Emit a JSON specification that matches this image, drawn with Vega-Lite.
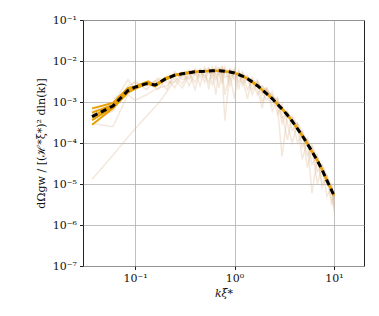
{
  "$schema": "https://vega.github.io/schema/vega-lite/v6.json",
  "width": 281,
  "height": 246,
  "autosize": {"type": "none"},
  "padding": {"left": 83, "top": 20, "right": 15, "bottom": 50},
  "config": {
    "font": "DejaVu Serif",
    "view": {"stroke": "#222", "strokeWidth": 1},
    "axis": {"domain": false, "grid": true, "gridColor": "#b0b0b0", "gridWidth": 0.8, "tickColor": "#222", "tickSize": 3.5, "labelFont": "DejaVu Serif", "labelFontSize": 11, "labelColor": "#111", "titleFont": "DejaVu Serif", "titleFontWeight": "normal", "titleFontSize": 11, "titleColor": "#111"}
  },
  "datasets": {
    "faint": [
      {"s":"F1","k":0.037,"v":1.3e-5},{"s":"F1","k":0.06,"v":5e-5},{"s":"F1","k":0.085,"v":1.4e-4},{"s":"F1","k":0.1,"v":2.2e-4},{"s":"F1","k":0.13,"v":4.5e-4},{"s":"F1","k":0.17,"v":9e-4},{"s":"F1","k":0.21,"v":1.8e-3},{"s":"F1","k":0.25,"v":3.5e-3},{"s":"F1","k":0.3,"v":2.2e-3},{"s":"F1","k":0.35,"v":5e-3},{"s":"F1","k":0.4,"v":3e-3},{"s":"F1","k":0.45,"v":6e-3},{"s":"F1","k":0.5,"v":4e-3},{"s":"F1","k":0.55,"v":6.5e-3},{"s":"F1","k":0.6,"v":2.5e-3},{"s":"F1","k":0.65,"v":6e-3},{"s":"F1","k":0.7,"v":4.5e-3},{"s":"F1","k":0.75,"v":6.5e-3},{"s":"F1","k":0.8,"v":1.5e-3},{"s":"F1","k":0.9,"v":5.5e-3},{"s":"F1","k":1.0,"v":3.5e-3},{"s":"F1","k":1.1,"v":5e-3},{"s":"F1","k":1.2,"v":2.5e-3},{"s":"F1","k":1.35,"v":4e-3},{"s":"F1","k":1.5,"v":1.5e-3},{"s":"F1","k":1.7,"v":3e-3},{"s":"F1","k":1.9,"v":1e-3},{"s":"F1","k":2.1,"v":2e-3},{"s":"F1","k":2.4,"v":6e-4},{"s":"F1","k":2.7,"v":1.1e-3},{"s":"F1","k":3.0,"v":3e-4},{"s":"F1","k":3.4,"v":6e-4},{"s":"F1","k":3.8,"v":2e-4},{"s":"F1","k":4.3,"v":3e-4},{"s":"F1","k":4.8,"v":8e-5},{"s":"F1","k":5.4,"v":1.3e-4},{"s":"F1","k":6.0,"v":3e-5},{"s":"F1","k":6.8,"v":5e-5},{"s":"F1","k":7.6,"v":1e-5},{"s":"F1","k":8.5,"v":1.5e-5},{"s":"F1","k":9.5,"v":3e-6},{"s":"F1","k":10,"v":6e-6},
      {"s":"F2","k":0.037,"v":3e-4},{"s":"F2","k":0.06,"v":2.5e-4},{"s":"F2","k":0.085,"v":1.5e-3},{"s":"F2","k":0.1,"v":1.1e-3},{"s":"F2","k":0.13,"v":1.5e-3},{"s":"F2","k":0.17,"v":2.2e-3},{"s":"F2","k":0.21,"v":2.5e-3},{"s":"F2","k":0.25,"v":4e-3},{"s":"F2","k":0.3,"v":2.8e-3},{"s":"F2","k":0.35,"v":5.5e-3},{"s":"F2","k":0.4,"v":2e-3},{"s":"F2","k":0.45,"v":5.5e-3},{"s":"F2","k":0.5,"v":4.5e-3},{"s":"F2","k":0.55,"v":3e-3},{"s":"F2","k":0.6,"v":7e-3},{"s":"F2","k":0.65,"v":3.5e-3},{"s":"F2","k":0.7,"v":6.5e-3},{"s":"F2","k":0.75,"v":5e-3},{"s":"F2","k":0.8,"v":3.5e-4},{"s":"F2","k":0.9,"v":6e-3},{"s":"F2","k":1.0,"v":4e-3},{"s":"F2","k":1.1,"v":5.5e-3},{"s":"F2","k":1.2,"v":3e-3},{"s":"F2","k":1.35,"v":4.5e-3},{"s":"F2","k":1.5,"v":2e-3},{"s":"F2","k":1.7,"v":3.2e-3},{"s":"F2","k":1.9,"v":1.6e-3},{"s":"F2","k":2.1,"v":2.2e-3},{"s":"F2","k":2.4,"v":1.3e-3},{"s":"F2","k":2.7,"v":1.2e-3},{"s":"F2","k":3.0,"v":4e-4},{"s":"F2","k":3.4,"v":5.5e-4},{"s":"F2","k":3.8,"v":3.5e-4},{"s":"F2","k":4.3,"v":2.5e-4},{"s":"F2","k":4.8,"v":1.6e-4},{"s":"F2","k":5.4,"v":5e-5},{"s":"F2","k":6.0,"v":8e-5},{"s":"F2","k":6.8,"v":2e-5},{"s":"F2","k":7.6,"v":3e-5},{"s":"F2","k":8.5,"v":1.3e-5},{"s":"F2","k":9.5,"v":8e-6},{"s":"F2","k":10,"v":2.5e-6},
      {"s":"F3","k":0.037,"v":5e-4},{"s":"F3","k":0.06,"v":9e-4},{"s":"F3","k":0.085,"v":3.5e-3},{"s":"F3","k":0.1,"v":2e-3},{"s":"F3","k":0.13,"v":3e-3},{"s":"F3","k":0.17,"v":2e-3},{"s":"F3","k":0.21,"v":3.8e-3},{"s":"F3","k":0.25,"v":2.2e-3},{"s":"F3","k":0.3,"v":5e-3},{"s":"F3","k":0.35,"v":3.5e-3},{"s":"F3","k":0.4,"v":6e-3},{"s":"F3","k":0.45,"v":2.5e-3},{"s":"F3","k":0.5,"v":6.5e-3},{"s":"F3","k":0.55,"v":5e-3},{"s":"F3","k":0.6,"v":6e-3},{"s":"F3","k":0.65,"v":1.5e-3},{"s":"F3","k":0.7,"v":7e-3},{"s":"F3","k":0.75,"v":4e-3},{"s":"F3","k":0.8,"v":6.5e-3},{"s":"F3","k":0.9,"v":2.5e-3},{"s":"F3","k":1.0,"v":6e-3},{"s":"F3","k":1.1,"v":3e-3},{"s":"F3","k":1.2,"v":5e-3},{"s":"F3","k":1.35,"v":2e-3},{"s":"F3","k":1.5,"v":3.5e-3},{"s":"F3","k":1.7,"v":1.5e-3},{"s":"F3","k":1.9,"v":2.5e-3},{"s":"F3","k":2.1,"v":1.8e-3},{"s":"F3","k":2.4,"v":1.5e-3},{"s":"F3","k":2.7,"v":8e-4},{"s":"F3","k":3.0,"v":4.7e-5},{"s":"F3","k":3.4,"v":5e-4},{"s":"F3","k":3.8,"v":4e-4},{"s":"F3","k":4.3,"v":1e-4},{"s":"F3","k":4.8,"v":1.8e-4},{"s":"F3","k":5.4,"v":1.1e-4},{"s":"F3","k":6.0,"v":6e-6},{"s":"F3","k":6.8,"v":4.5e-5},{"s":"F3","k":7.6,"v":2.5e-5},{"s":"F3","k":8.5,"v":5e-6},{"s":"F3","k":9.5,"v":9e-6},{"s":"F3","k":10,"v":2e-6},
      {"s":"F4","k":0.037,"v":6e-4},{"s":"F4","k":0.06,"v":1e-3},{"s":"F4","k":0.085,"v":2e-3},{"s":"F4","k":0.1,"v":2.5e-3},{"s":"F4","k":0.13,"v":2.8e-3},{"s":"F4","k":0.17,"v":3.2e-3},{"s":"F4","k":0.21,"v":4.2e-3},{"s":"F4","k":0.25,"v":5e-3},{"s":"F4","k":0.3,"v":4e-3},{"s":"F4","k":0.35,"v":6e-3},{"s":"F4","k":0.4,"v":4.5e-3},{"s":"F4","k":0.45,"v":6.5e-3},{"s":"F4","k":0.5,"v":5.5e-3},{"s":"F4","k":0.55,"v":7e-3},{"s":"F4","k":0.6,"v":5e-3},{"s":"F4","k":0.65,"v":7.5e-3},{"s":"F4","k":0.7,"v":6e-3},{"s":"F4","k":0.75,"v":7.5e-3},{"s":"F4","k":0.8,"v":5e-3},{"s":"F4","k":0.9,"v":6.5e-3},{"s":"F4","k":1.0,"v":5.5e-3},{"s":"F4","k":1.1,"v":5e-3},{"s":"F4","k":1.2,"v":4.5e-3},{"s":"F4","k":1.35,"v":4e-3},{"s":"F4","k":1.5,"v":3.5e-3},{"s":"F4","k":1.7,"v":2.8e-3},{"s":"F4","k":1.9,"v":2.3e-3},{"s":"F4","k":2.1,"v":1.9e-3},{"s":"F4","k":2.4,"v":1.4e-3},{"s":"F4","k":2.7,"v":1e-3},{"s":"F4","k":3.0,"v":7.5e-4},{"s":"F4","k":3.4,"v":5.5e-4},{"s":"F4","k":3.8,"v":4e-4},{"s":"F4","k":4.3,"v":2.6e-4},{"s":"F4","k":4.8,"v":1.8e-4},{"s":"F4","k":5.4,"v":1.1e-4},{"s":"F4","k":6.0,"v":7e-5},{"s":"F4","k":6.8,"v":4.2e-5},{"s":"F4","k":7.6,"v":2.5e-5},{"s":"F4","k":8.5,"v":1.4e-5},{"s":"F4","k":9.5,"v":7.5e-6},{"s":"F4","k":10,"v":5.5e-6},
      {"s":"F5","k":0.037,"v":4e-4},{"s":"F5","k":0.06,"v":6e-4},{"s":"F5","k":0.085,"v":2.5e-3},{"s":"F5","k":0.1,"v":3e-3},{"s":"F5","k":0.13,"v":2.5e-3},{"s":"F5","k":0.17,"v":3.5e-3},{"s":"F5","k":0.21,"v":2e-3},{"s":"F5","k":0.25,"v":5.5e-3},{"s":"F5","k":0.3,"v":3.5e-3},{"s":"F5","k":0.35,"v":4e-3},{"s":"F5","k":0.4,"v":6.5e-3},{"s":"F5","k":0.45,"v":4e-3},{"s":"F5","k":0.5,"v":7e-3},{"s":"F5","k":0.55,"v":2e-3},{"s":"F5","k":0.6,"v":6.5e-3},{"s":"F5","k":0.65,"v":5e-3},{"s":"F5","k":0.7,"v":2.2e-3},{"s":"F5","k":0.75,"v":7e-3},{"s":"F5","k":0.8,"v":4e-3},{"s":"F5","k":0.9,"v":4.5e-3},{"s":"F5","k":1.0,"v":1.2e-3},{"s":"F5","k":1.1,"v":6e-3},{"s":"F5","k":1.2,"v":3.8e-3},{"s":"F5","k":1.35,"v":1.2e-3},{"s":"F5","k":1.5,"v":4e-3},{"s":"F5","k":1.7,"v":2e-3},{"s":"F5","k":1.9,"v":7e-4},{"s":"F5","k":2.1,"v":2.3e-3},{"s":"F5","k":2.4,"v":8e-4},{"s":"F5","k":2.7,"v":1.3e-3},{"s":"F5","k":3.0,"v":5e-4},{"s":"F5","k":3.4,"v":1.2e-4},{"s":"F5","k":3.8,"v":4.5e-4},{"s":"F5","k":4.3,"v":2.8e-4},{"s":"F5","k":4.8,"v":4e-5},{"s":"F5","k":5.4,"v":1.2e-4},{"s":"F5","k":6.0,"v":7.5e-5},{"s":"F5","k":6.8,"v":1e-5},{"s":"F5","k":7.6,"v":2.8e-5},{"s":"F5","k":8.5,"v":1.5e-5},{"s":"F5","k":9.5,"v":4e-6},{"s":"F5","k":10,"v":5e-6},
      {"s":"F6","k":0.06,"v":1.2e-3},{"s":"F6","k":0.085,"v":1.8e-3},{"s":"F6","k":0.1,"v":3.3e-3},{"s":"F6","k":0.13,"v":2e-3},{"s":"F6","k":0.17,"v":3.8e-3},{"s":"F6","k":0.21,"v":3e-3},{"s":"F6","k":0.25,"v":3e-3},{"s":"F6","k":0.3,"v":5.5e-3},{"s":"F6","k":0.35,"v":2.5e-3},{"s":"F6","k":0.4,"v":5e-3},{"s":"F6","k":0.45,"v":6e-3},{"s":"F6","k":0.5,"v":3e-3},{"s":"F6","k":0.55,"v":6e-3},{"s":"F6","k":0.6,"v":4e-3},{"s":"F6","k":0.65,"v":6.5e-3},{"s":"F6","k":0.7,"v":5e-3},{"s":"F6","k":0.75,"v":2.8e-3},{"s":"F6","k":0.8,"v":7e-3},{"s":"F6","k":0.9,"v":3.5e-3},{"s":"F6","k":1.0,"v":6.5e-3},{"s":"F6","k":1.1,"v":2e-3},{"s":"F6","k":1.2,"v":5.5e-3},{"s":"F6","k":1.35,"v":3.5e-3},{"s":"F6","k":1.5,"v":2.5e-3},{"s":"F6","k":1.7,"v":3.5e-3},{"s":"F6","k":1.9,"v":1.8e-3},{"s":"F6","k":2.1,"v":1.1e-3},{"s":"F6","k":2.4,"v":1.8e-3},{"s":"F6","k":2.7,"v":5e-4},{"s":"F6","k":3.0,"v":9e-4},{"s":"F6","k":3.4,"v":3e-4},{"s":"F6","k":3.8,"v":1e-4},{"s":"F6","k":4.3,"v":3e-4},{"s":"F6","k":4.8,"v":2e-4},{"s":"F6","k":5.4,"v":2.5e-5},{"s":"F6","k":6.0,"v":9e-5},{"s":"F6","k":6.8,"v":4.5e-5},{"s":"F6","k":7.6,"v":8e-6},{"s":"F6","k":8.5,"v":1.6e-5},{"s":"F6","k":9.5,"v":9e-6},{"s":"F6","k":10,"v":3e-6}
    ],
    "orange": [
      {"s":"O1","k":0.037,"v":7e-4},{"s":"O1","k":0.06,"v":9.5e-4},{"s":"O1","k":0.085,"v":2.2e-3},{"s":"O1","k":0.1,"v":2.4e-3},{"s":"O1","k":0.135,"v":3.2e-3},{"s":"O1","k":0.16,"v":2.5e-3},{"s":"O1","k":0.2,"v":3.8e-3},{"s":"O1","k":0.25,"v":4.5e-3},{"s":"O1","k":0.3,"v":5e-3},{"s":"O1","k":0.4,"v":5.6e-3},
      {"s":"O2","k":0.037,"v":2.8e-4},{"s":"O2","k":0.06,"v":7e-4},{"s":"O2","k":0.085,"v":1.7e-3},{"s":"O2","k":0.1,"v":2.1e-3},{"s":"O2","k":0.135,"v":2.9e-3},{"s":"O2","k":0.16,"v":2.4e-3},{"s":"O2","k":0.2,"v":3.5e-3},{"s":"O2","k":0.25,"v":4.4e-3},{"s":"O2","k":0.3,"v":4.8e-3},{"s":"O2","k":0.4,"v":5.4e-3},
      {"s":"O3","k":0.037,"v":5.5e-4},{"s":"O3","k":0.06,"v":8.5e-4},{"s":"O3","k":0.085,"v":2.0e-3},{"s":"O3","k":0.1,"v":2.3e-3},{"s":"O3","k":0.135,"v":3.0e-3},{"s":"O3","k":0.16,"v":2.6e-3},{"s":"O3","k":0.2,"v":3.7e-3},{"s":"O3","k":0.25,"v":4.6e-3},{"s":"O3","k":0.3,"v":4.9e-3},{"s":"O3","k":0.4,"v":5.5e-3},
      {"s":"O4","k":0.037,"v":3.6e-4},{"s":"O4","k":0.06,"v":7.5e-4},{"s":"O4","k":0.085,"v":1.8e-3},{"s":"O4","k":0.1,"v":2.2e-3},{"s":"O4","k":0.135,"v":2.8e-3},{"s":"O4","k":0.16,"v":2.7e-3},{"s":"O4","k":0.2,"v":3.5e-3},{"s":"O4","k":0.25,"v":4.4e-3},{"s":"O4","k":0.3,"v":5e-3},{"s":"O4","k":0.4,"v":5.5e-3}
    ],
    "mean": [
      {"k":0.037,"v":4.4e-4},{"k":0.06,"v":8e-4},{"k":0.085,"v":1.9e-3},{"k":0.1,"v":2.3e-3},{"k":0.13,"v":2.8e-3},{"k":0.16,"v":2.6e-3},{"k":0.2,"v":3.6e-3},{"k":0.25,"v":4.5e-3},{"k":0.3,"v":4.9e-3},{"k":0.35,"v":5.2e-3},{"k":0.4,"v":5.5e-3},{"k":0.5,"v":5.6e-3},{"k":0.6,"v":5.8e-3},{"k":0.7,"v":5.8e-3},{"k":0.8,"v":5.6e-3},{"k":0.9,"v":5.4e-3},{"k":1.0,"v":5.1e-3},{"k":1.2,"v":4.3e-3},{"k":1.35,"v":3.7e-3},{"k":1.5,"v":3.1e-3},{"k":1.7,"v":2.5e-3},{"k":2.1,"v":1.6e-3},{"k":2.4,"v":1.2e-3},{"k":2.7,"v":8.8e-4},{"k":3.0,"v":6.8e-4},{"k":3.4,"v":4.8e-4},{"k":3.8,"v":3.4e-4},{"k":4.3,"v":2.2e-4},{"k":4.8,"v":1.5e-4},{"k":5.4,"v":9.5e-5},{"k":6.0,"v":6.2e-5},{"k":6.8,"v":3.7e-5},{"k":7.6,"v":2.2e-5},{"k":8.5,"v":1.2e-5},{"k":9.5,"v":6.8e-6},{"k":10,"v":5.2e-6}
    ]
  },
  "encoding": {
    "x": {"field": "k", "type": "quantitative", "scale": {"type": "log", "domain": [0.03, 20], "nice": false},
      "axis": {"values": [0.1, 1, 10], "title": "kξ*", "titleFontStyle": "italic", "titlePadding": 4, "labelPadding": 3,
        "labelExpr": "'10' + (round(log(datum.value)/LN10) < 0 ? '⁻' : '') + ['⁰','¹','²','³','⁴','⁵','⁶','⁷','⁸','⁹'][abs(round(log(datum.value)/LN10))]"}},
    "y": {"field": "v", "type": "quantitative", "scale": {"type": "log", "domain": [1e-7, 0.1], "nice": false},
      "axis": {"values": [1e-7, 1e-6, 1e-5, 1e-4, 1e-3, 1e-2, 1e-1], "title": "dΩgw / [(ℋ*ξ*)² dln(k)]", "titlePadding": 6, "labelPadding": 3,
        "labelExpr": "'10' + (round(log(datum.value)/LN10) < 0 ? '⁻' : '') + ['⁰','¹','²','³','⁴','⁵','⁶','⁷','⁸','⁹'][abs(round(log(datum.value)/LN10))]"}}
  },
  "layer": [
    {"data": {"name": "faint"}, "mark": {"type": "line", "color": "#d9b48a", "opacity": 0.3, "strokeWidth": 1.5, "clip": true}, "encoding": {"detail": {"field": "s"}}},
    {"data": {"name": "orange"}, "mark": {"type": "line", "color": "#E69F00", "strokeWidth": 2, "clip": true}, "encoding": {"detail": {"field": "s"}}},
    {"data": {"name": "mean"}, "mark": {"type": "line", "color": "#E69F00", "strokeWidth": 2.5, "clip": true}, "encoding": {}},
    {"data": {"name": "mean"}, "mark": {"type": "line", "color": "#000000", "strokeWidth": 3, "strokeDash": [6, 4], "clip": true}, "encoding": {}}
  ]
}
